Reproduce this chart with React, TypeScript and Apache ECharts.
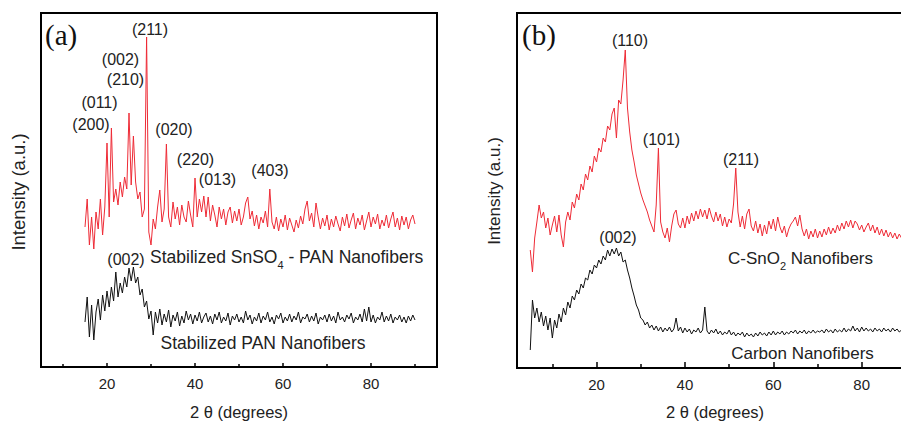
import React, { useEffect, useRef } from "react";
import * as echarts from "echarts";

// 2θ sampling of the traces (degrees)
const STEP = 0.5;
const A_START = 15; // panel (a) traces start at 15°
const B_START = 5; // panel (b) traces start at 5°

// Panel (a): Stabilized SnSO4 - PAN Nanofibers (red), 15°..90°
const aSnSO4PAN = [
  140, 168, 122, 150, 118, 155, 138, 168, 132, 160,
  224, 150, 239, 165, 178, 162, 185, 170, 190, 178,
  254, 182, 231, 185, 168, 175, 150, 158, 330, 135,
  122, 148, 138, 160, 177, 145, 158, 223, 150, 140,
  165, 148, 160, 142, 162, 150, 145, 166, 152, 140,
  189, 150, 168, 155, 171, 150, 170, 146, 162, 152,
  140, 160, 148, 158, 142, 155, 160, 144, 156, 146,
  158, 142, 150, 164, 170, 148, 156, 141, 152, 138,
  150, 144, 156, 140, 178, 145, 138, 150, 136, 148,
  140, 152, 137, 149, 142, 135, 147, 139, 151, 143,
  158, 166, 146, 154, 140, 164, 150, 138, 149, 141,
  152, 137, 148, 140, 151, 143, 136, 150, 141, 153,
  139, 147, 154, 138, 149, 142, 152, 137, 146, 155,
  140, 150, 143, 153, 138, 147, 141, 152, 139, 148,
  155, 140, 149, 137, 151, 142, 150, 138, 147, 152,
  143,
];

// Panel (a): Stabilized PAN Nanofibers (black), 15°..90°
const aPAN = [
  45, 70, 30, 62, 27, 55, 68, 47, 72, 56,
  76, 60, 80, 66, 95, 70, 84, 74, 90, 80,
  99, 86, 100, 84, 90, 72, 78, 60, 66, 48,
  56, 32, 55, 44, 58, 42, 53, 45, 57, 40,
  52, 46, 55, 41, 51, 44, 56, 47, 53, 43,
  52, 46, 55, 44, 50, 54, 45, 51, 43, 53,
  47, 55, 44, 50, 46, 54, 42, 51, 47, 53,
  45, 50, 44, 56, 47, 52, 43, 50, 46, 54,
  44, 51, 47, 55, 45, 50, 43, 52, 48, 54,
  44, 50, 46, 53, 45, 51, 47, 55, 44, 50,
  48, 53, 45, 51, 46, 54, 43, 50, 47, 52,
  45, 53, 46, 51, 44, 55, 47, 50, 45, 52,
  48, 54, 44, 50, 47, 53, 45, 58, 46, 60,
  45, 52, 44, 50, 47, 55, 45, 51, 46, 53,
  44, 50, 47, 52, 45, 50, 44, 51, 46, 52,
  47,
];

// Panel (b): C-SnO2 Nanofibers (red), 5°..90°
const bCSnO2 = [
  118, 96, 130, 146, 163, 150, 156, 140, 150, 133,
  143, 152, 136, 153, 133, 121, 146, 156, 148, 166,
  160, 174, 168, 184, 178, 194, 188, 202, 196, 212,
  206, 220, 216, 230, 226, 242, 238, 254, 260, 230,
  268, 264, 288, 318, 260, 236, 218, 206, 193, 184,
  175, 168, 162, 156, 148, 142, 136, 163, 220, 146,
  136, 130, 140, 126, 142, 154, 158, 144, 140, 150,
  140, 152, 144, 155, 147, 157, 149, 159, 151, 158,
  149, 160, 152, 146, 156, 147, 154, 142, 151, 141,
  149, 145, 164, 200, 156, 141, 152, 139, 154, 159,
  142, 137, 147, 135, 144, 132, 143, 134, 147, 139,
  149, 137, 151, 141, 135, 142, 131, 139, 144, 147,
  151, 142, 153, 139, 132, 139, 129, 137, 131, 139,
  130, 137, 131, 139, 133, 141, 134, 140, 135, 143,
  137, 145, 139, 147, 141, 148, 140, 147, 144, 138,
  143, 136, 141, 145, 137, 143, 135, 141, 133, 139,
  132, 138, 131, 136, 130, 135, 129, 134, 130, 135,
  131,
];

// Panel (b): Carbon Nanofibers (black), 5°..90°
const bCarbon = [
  18, 68, 50, 60, 46, 56, 42, 52, 38, 50,
  30, 48, 40, 54, 46, 60, 53, 66, 60, 72,
  68, 78, 74, 84, 80, 90, 88, 98, 94, 103,
  100, 108, 104, 112, 108, 118, 112, 119, 114, 120,
  112, 116, 106, 108, 98, 90, 80, 72, 63, 58,
  50, 48, 43, 46, 40, 43, 38, 42, 37, 41,
  36, 40, 37, 41, 36, 39, 50, 37, 41, 35,
  40, 36, 39, 34, 38, 36, 40, 35, 38, 61,
  37, 34, 38, 35, 39, 34, 37, 33, 36, 34,
  38, 33, 36, 32, 35, 33, 36, 31, 35, 32,
  34, 31, 35, 32, 36, 33, 35, 32, 36, 33,
  37, 33, 36, 34, 37, 33, 36, 34, 37, 35,
  38, 34, 37, 35, 38, 34, 37, 35, 38, 35,
  37, 36, 38, 35, 39, 36, 38, 35, 39, 36,
  38, 36, 40, 36, 39, 37, 42, 37, 40, 36,
  41, 37, 40, 37, 39, 36, 40, 37, 39, 36,
  40, 37, 39, 36, 40, 37, 39, 36, 38, 36,
  38,
];

const majorTicks = [20, 40, 60, 80];
const minorTicks = [10, 30, 50, 70, 90];

const toPairs = (start: number, vals: number[]) =>
  vals.map((v, i) => [start + i * STEP, v]);

const SANS = '"Liberation Sans", Arial, sans-serif';
const SERIF = '"Liberation Serif", "Times New Roman", serif';
const RED = "#ee2b36";
const BLACK = "#111111";
const TXT = "#222222";

function makeXAxes(gridIndex: number, min: number, max: number, majorLen: number, minorLen: number) {
  return [
    {
      gridIndex,
      type: "value",
      min,
      max,
      position: "bottom",
      axisLine: { show: false },
      splitLine: { show: false },
      axisTick: {
        show: true,
        inside: true,
        length: majorLen,
        customValues: majorTicks,
        lineStyle: { color: "#000", width: 1.5 },
      },
      axisLabel: {
        show: true,
        customValues: majorTicks,
        margin: 9,
        fontSize: 15,
        fontFamily: SANS,
        color: TXT,
      },
    },
    {
      gridIndex,
      type: "value",
      min,
      max,
      position: "bottom",
      axisLine: { show: false },
      splitLine: { show: false },
      axisTick: {
        show: true,
        inside: true,
        length: minorLen,
        customValues: minorTicks,
        lineStyle: { color: "#000", width: 1.5 },
      },
      axisLabel: { show: false },
    },
  ];
}

function txt(text: string, x: number, y: number, size: number, extra: any = {}) {
  return {
    type: "text",
    x,
    y,
    z: 100,
    style: {
      text,
      fontSize: size,
      fontFamily: SANS,
      fill: TXT,
      align: "center",
      verticalAlign: "middle",
      ...extra,
    },
  };
}

export default function App() {
  const ref = useRef<HTMLDivElement>(null);

  useEffect(() => {
    if (!ref.current) return;
    const chart = echarts.init(ref.current, null, { renderer: "svg" });
    const option: any = {
      animation: false,
      backgroundColor: "#ffffff",
      grid: [
        {
          left: 41,
          top: 13,
          width: 396,
          height: 354,
          show: true,
          borderColor: "#000",
          borderWidth: 2,
          backgroundColor: "transparent",
          outerBoundsMode: "none",
        },
        {
          left: 517,
          top: 13,
          width: 411,
          height: 355,
          show: true,
          borderColor: "#000",
          borderWidth: 2,
          backgroundColor: "transparent",
          outerBoundsMode: "none",
        },
      ],
      xAxis: [...makeXAxes(0, 5, 95, 4, 3), ...makeXAxes(1, 2, 95, 6, 4)],
      yAxis: [
        { gridIndex: 0, type: "value", min: 0, max: 354, show: false },
        { gridIndex: 1, type: "value", min: 0, max: 355, show: false },
      ],
      series: [
        {
          type: "line",
          xAxisIndex: 0,
          yAxisIndex: 0,
          data: toPairs(A_START, aSnSO4PAN),
          showSymbol: false,
          lineStyle: { color: RED, width: 1 },
        },
        {
          type: "line",
          xAxisIndex: 0,
          yAxisIndex: 0,
          data: toPairs(A_START, aPAN),
          showSymbol: false,
          lineStyle: { color: BLACK, width: 1 },
        },
        {
          type: "line",
          xAxisIndex: 2,
          yAxisIndex: 1,
          data: toPairs(B_START, bCSnO2),
          showSymbol: false,
          lineStyle: { color: RED, width: 1 },
        },
        {
          type: "line",
          xAxisIndex: 2,
          yAxisIndex: 1,
          data: toPairs(B_START, bCarbon),
          showSymbol: false,
          lineStyle: { color: BLACK, width: 1 },
        },
      ],
      graphic: [
        // panel letters
        txt("(a)", 45, 35, 29, { fontFamily: SERIF, fill: "#111", align: "left" }),
        txt("(b)", 522, 35, 29, { fontFamily: SERIF, fill: "#111", align: "left" }),
        // y axis titles
        { ...txt("Intensity (a.u.)", 18, 192, 18.5), rotation: Math.PI / 2 },
        { ...txt("Intensity (a.u.)", 494, 191, 17), rotation: Math.PI / 2 },
        // x axis titles
        txt("2 θ (degrees)", 239, 412, 16.5),
        txt("2 θ (degrees)", 715, 412, 16.5),
        // panel (a) reflections
        txt("(211)", 150, 29, 16),
        txt("(002)", 120.5, 59.5, 16),
        txt("(210)", 125.5, 79.5, 16),
        txt("(011)", 99.5, 102, 16),
        txt("(200)", 91, 124, 16),
        txt("(020)", 174, 129, 16),
        txt("(220)", 195.5, 159.5, 16),
        txt("(013)", 217.5, 179.5, 16),
        txt("(403)", 270, 170.5, 16),
        txt("(002)", 126, 259.5, 16),
        txt("Stabilized SnSO{s|4} - PAN Nanofibers", 150, 257, 17.5, {
          align: "left",
          rich: { s: { fontSize: 11, fontFamily: SANS, fill: TXT, padding: [15, 0, 0, 0] } },
        }),
        txt("Stabilized PAN Nanofibers", 263, 343, 17.5),
        // panel (b) reflections
        txt("(110)", 630, 40.5, 16),
        txt("(101)", 661.5, 139.5, 16),
        txt("(211)", 741, 159.5, 16),
        txt("(002)", 618, 237.5, 16),
        txt("C-SnO{s|2} Nanofibers", 728, 258, 17, {
          align: "left",
          rich: { s: { fontSize: 11, fontFamily: SANS, fill: TXT, padding: [15, 0, 0, 0] } },
        }),
        txt("Carbon Nanofibers", 802.5, 353, 17),
      ],
    };
    chart.setOption(option);
    return () => chart.dispose();
  }, []);

  return (
    <div
      ref={ref}
      style={{ position: "fixed", left: 0, top: 0, width: 901, height: 422, background: "#fff" }}
    />
  );
}
